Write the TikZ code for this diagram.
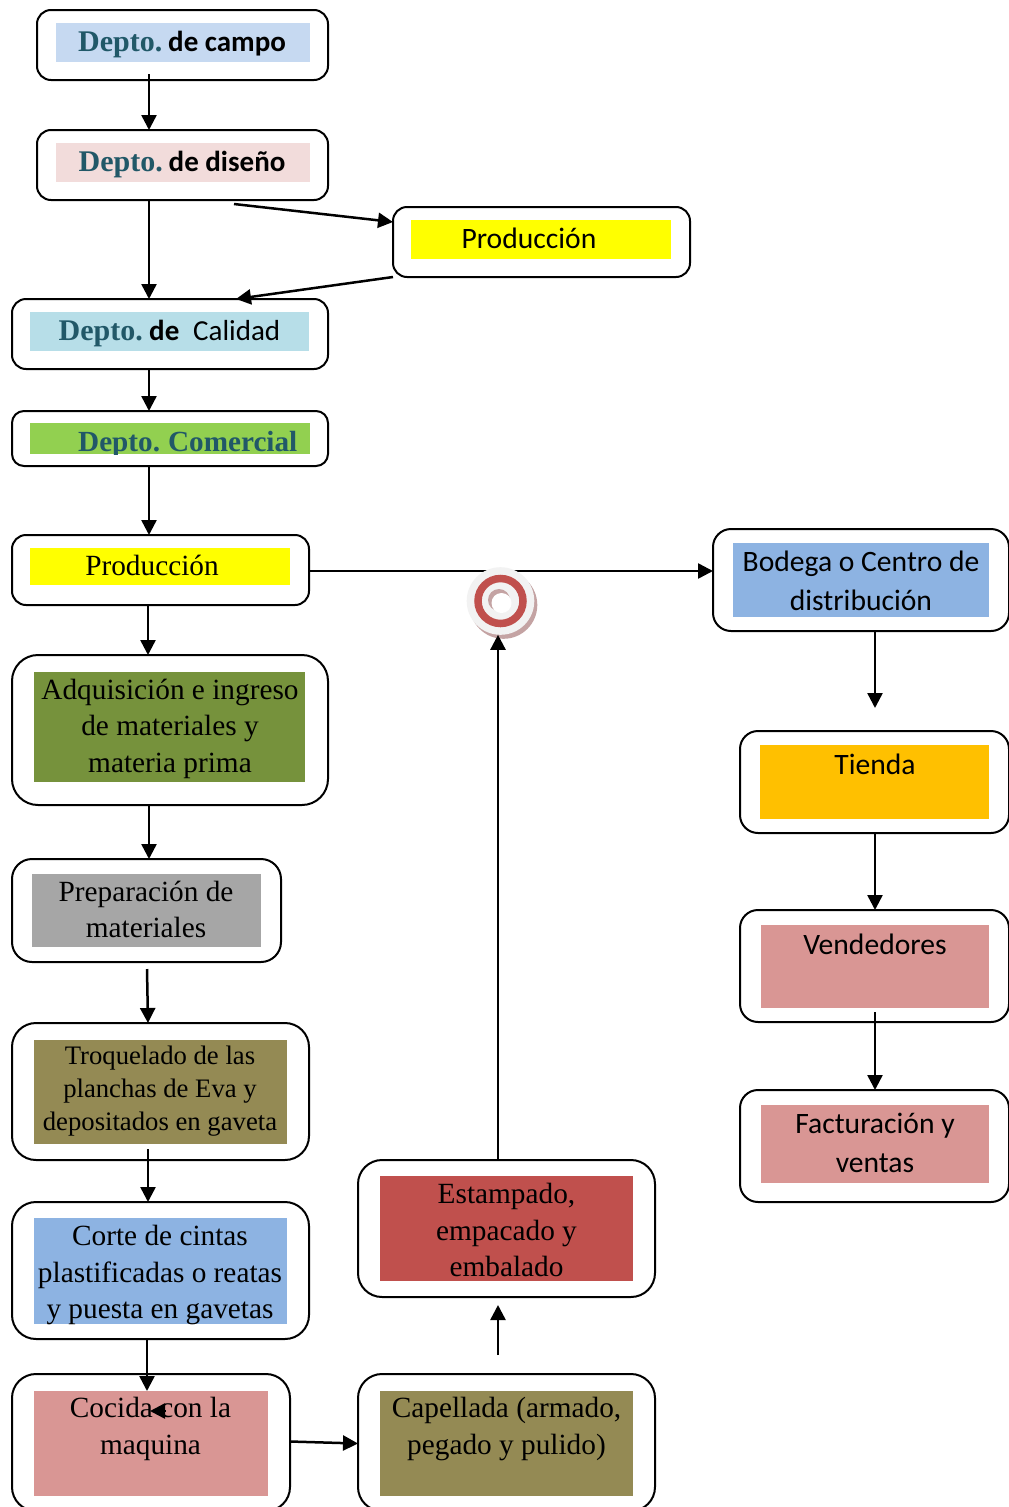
\documentclass[tikz,border=0pt]{standalone}
\usepackage{fontspec}
\setmainfont{Liberation Serif}
\newfontfamily\carl{Carlito}
\usetikzlibrary{arrows.meta}
\definecolor{deptoc}{HTML}{215868}
\definecolor{fcampo}{HTML}{C6D9F1}
\definecolor{fdiseno}{HTML}{F2DCDB}
\definecolor{fcalidad}{HTML}{B7DEE8}
\definecolor{fcomer}{HTML}{92D050}
\definecolor{fyellow}{HTML}{FFFF00}
\definecolor{fadq}{HTML}{76923C}
\definecolor{fprep}{HTML}{A6A6A6}
\definecolor{folive}{HTML}{948A54}
\definecolor{fblue}{HTML}{8DB3E2}
\definecolor{fpink}{HTML}{D99694}
\definecolor{fred}{HTML}{C0504D}
\definecolor{forange}{HTML}{FFC000}
\definecolor{iconbg}{HTML}{F2F2F2}
\definecolor{iconsh}{HTML}{C4A3A3}
\tikzset{
  outerbox/.style={draw=black,line width=2pt,fill=white,rounded corners=#1,inner sep=0pt,outer sep=0pt,rectangle},
  fillbox/.style={draw=none,fill=#1,inner sep=0pt,outer sep=0pt,rectangle},
  arr/.style={line width=2.5pt,-{Triangle[length=15pt,width=15pt]}},
  sertxt/.style={inner sep=0pt,align=center,font=\fontsize{29.3}{36.5}\selectfont},
  smalltxt/.style={inner sep=0pt,align=center,font=\fontsize{26.7}{33}\selectfont},
  caltxt/.style={inner sep=0pt,align=center,font=\carl\fontsize{29.6}{38.5}\selectfont},
  deptotxt/.style={inner sep=0pt,anchor=base west,font=\fontsize{30}{36}\selectfont\bfseries,text=deptoc},
  calbold/.style={inner sep=0pt,anchor=base west,font=\carl\fontsize{29}{36}\selectfont\bfseries},
  calplain/.style={inner sep=0pt,anchor=base west,font=\carl\fontsize{29}{36}\selectfont},
}
\newcommand{\bx}[6]{%
  \pgfmathsetmacro{\cxx}{(#2+#4)/2}\pgfmathsetmacro{\cyy}{(#3+#5)/2}%
  \pgfmathsetmacro{\wdd}{#4-#2}\pgfmathsetmacro{\htt}{#5-#3}%
  \node[#6,minimum width=\wdd pt,minimum height=\htt pt] (#1) at (\cxx,\cyy) {};}
\begin{document}
\begin{tikzpicture}[x=1pt,y=-1pt]
\useasboundingbox (0,0) rectangle (1009,1507);
\clip (0,0) rectangle (1009,1507);
\fill[white] (0,0) rectangle (1009,1507);
% outer boxes
\bx{campo}{37}{10}{328}{80}{outerbox=14pt}
\bx{diseno}{37}{130}{328}{200}{outerbox=14pt}
\bx{prodA}{393}{207}{690}{277}{outerbox=14pt}
\bx{calidad}{12}{299}{328}{369}{outerbox=14pt}
\bx{comercial}{12}{411}{328}{466}{outerbox=12pt}
\bx{prodB}{12}{535}{309}{605}{outerbox=14pt}
\bx{adq}{12}{655}{328}{805}{outerbox=26pt}
\bx{prep}{12}{859}{281}{962}{outerbox=20pt}
\bx{troq}{12}{1023}{309}{1160}{outerbox=24pt}
\bx{corte}{12}{1202}{309}{1339}{outerbox=24pt}
\bx{cocida}{12}{1374}{290}{1511}{outerbox=24pt}
\bx{capell}{358}{1374}{655}{1511}{outerbox=24pt}
\bx{estamp}{358}{1160}{655}{1297}{outerbox=24pt}
\bx{bodega}{713}{529}{1009}{631}{outerbox=18pt}
\bx{tienda}{740}{731}{1009}{833}{outerbox=18pt}
\bx{vend}{740}{910}{1009}{1022}{outerbox=18pt}
\bx{fact}{740}{1090}{1009}{1202}{outerbox=18pt}
% coloured fills
\bx{campoF}{56}{23}{310}{62}{fillbox=fcampo}
\bx{disenoF}{56}{143}{310}{182}{fillbox=fdiseno}
\bx{prodAF}{411}{220}{671}{259}{fillbox=fyellow}
\bx{calidadF}{30}{312}{309}{351}{fillbox=fcalidad}
\bx{comerF}{30}{423}{310}{454}{fillbox=fcomer}
\bx{prodBF}{30}{548}{290}{585}{fillbox=fyellow}
\bx{adqF}{34}{672}{305}{782}{fillbox=fadq}
\bx{prepF}{32}{874}{261}{947}{fillbox=fprep}
\bx{troqF}{34}{1040}{287}{1144}{fillbox=folive}
\bx{corteF}{34}{1218}{287}{1324}{fillbox=fblue}
\bx{cocidaF}{34}{1391}{268}{1496}{fillbox=fpink}
\bx{capellF}{380}{1391}{633}{1496}{fillbox=folive}
\bx{estampF}{380}{1176}{633}{1281}{fillbox=fred}
\bx{bodegaF}{733}{543}{989}{617}{fillbox=fblue}
\bx{tiendaF}{760}{745}{989}{819}{fillbox=forange}
\bx{vendF}{761}{925}{989}{1008}{fillbox=fpink}
\bx{factF}{761}{1105}{989}{1183}{fillbox=fpink}
% texts
\node[deptotxt] (t1a) at (78,51) {Depto.};
\node[calbold] (t1b) at (168,51) {de campo};
\node[deptotxt] (t2a) at (78.5,171) {Depto.};
\node[calbold] (t2b) at (168.5,171) {de diseño};
\node[caltxt] (t3) at (529,238) {Producción};
\node[deptotxt] (t4a) at (58.5,340) {Depto.};
\node[calbold] (t4b) at (149,340) {de};
\node[calplain] (t4c) at (193,340) {Calidad};
\begin{scope}
\clip (30,423) rectangle (310,454);
\node[deptotxt,font=\fontsize{29.2}{36}\selectfont\bfseries] (t5) at (78,451) {Depto.\hspace{8pt}Comercial};
\end{scope}
\node[sertxt] (t6) at (152,565.5) {Producción};
\node[sertxt] (t7) at (170,728.5) {Adquisición e ingreso\\de materiales y\\materia prima};
\node[sertxt] (t8) at (146,909.5) {Preparación de\\materiales};
\node[smalltxt] (t9) at (160,1091) {Troquelado de las\\planchas de Eva y\\depositados en gaveta};
\node[sertxt] (t10) at (160,1275) {Corte de cintas\\plastificadas o reatas\\y puesta en gavetas};
\node[sertxt] (t11) at (150.5,1429) {Cocida con la\\maquina};
\node[sertxt] (t12) at (506.5,1429) {Capellada (armado,\\pegado y pulido)};
\node[sertxt] (t13) at (506.5,1230) {Estampado,\\empacado y\\embalado};
\node[caltxt] (t14) at (861,581) {Bodega o Centro de\\distribución};
\node[caltxt] (t15) at (875,764.5) {Tienda};
\node[caltxt] (t16) at (875,944.5) {Vendedores};
\node[caltxt] (t17) at (875,1143) {Facturación y\\ventas};
% reference x positions
\coordinate (xa) at (149,0);
\coordinate (xb) at (148,0);
\coordinate (xc) at (147,0);
\coordinate (xd) at (498,0);
\coordinate (xe) at (875,0);
\coordinate (yh) at (0,571);
% main line passes behind the icon
\draw[arr] (prodB.east |- yh) -- (bodega.west |- yh);
% icon
\fill[iconsh] (503.5,605) circle (33.8);
\node[circle,fill=iconbg,minimum size=67.6pt,inner sep=0pt,outer sep=0pt] (target) at (500.5,601) {};
\draw[fred,line width=7.5pt] (target.center) circle (22.5);
\fill[iconsh] (499,600) circle (11);
\fill[white] (501.5,603) circle (10);
% connectors
\draw[arr] ([yshift=6pt]campo.south -| xa) -- (diseno.north -| xa);
\draw[arr] (diseno.south -| xa) -- (calidad.north -| xa);
\draw[arr] ([shift={(51.5pt,-4pt)}]diseno.south) -- ([yshift=20pt]prodA.west);
\draw[arr] (prodA.south west) -- ([xshift=66pt]calidad.north);
\draw[arr] (calidad.south -| xa) -- (comercial.north -| xa);
\draw[arr] (comercial.south -| xa) -- (prodB.north -| xa);
\draw[arr] ([yshift=-1pt]prodB.south -| xb) -- (adq.north -| xb);
\draw[arr] (adq.south -| xa) -- (prep.north -| xa);
\draw[arr] ([yshift=-7pt]prep.south -| xc) -- (troq.north -| xb);
\draw[arr] ([yshift=11pt]troq.south -| xb) -- (corte.north -| xb);
\draw[arr] (corte.south -| xc) -- (cocidaF.north -| xc);
\draw[arr] ([shift={(17pt,-20pt)}]cocidaF.north -| xa) -- ([shift={(1pt,-20pt)}]cocidaF.north -| xa);
\draw[arr] ([yshift=1pt]cocida.east) -- ([yshift=-1pt]capell.west);
\draw[arr] ([yshift=19pt]capell.north -| xd) -- ([yshift=-8pt]estamp.south -| xd);
\draw[arr] (estamp.north -| xd) -- (target.south -| xd);
\draw[arr] (bodega.south -| xe) -- ([yshift=23pt]tienda.north -| xe);
\draw[arr] (tienda.south -| xe) -- (vend.north -| xe);
\draw[arr] ([yshift=-4pt]vendF.south -| xe) -- (fact.north -| xe);
\end{tikzpicture}
\end{document}
